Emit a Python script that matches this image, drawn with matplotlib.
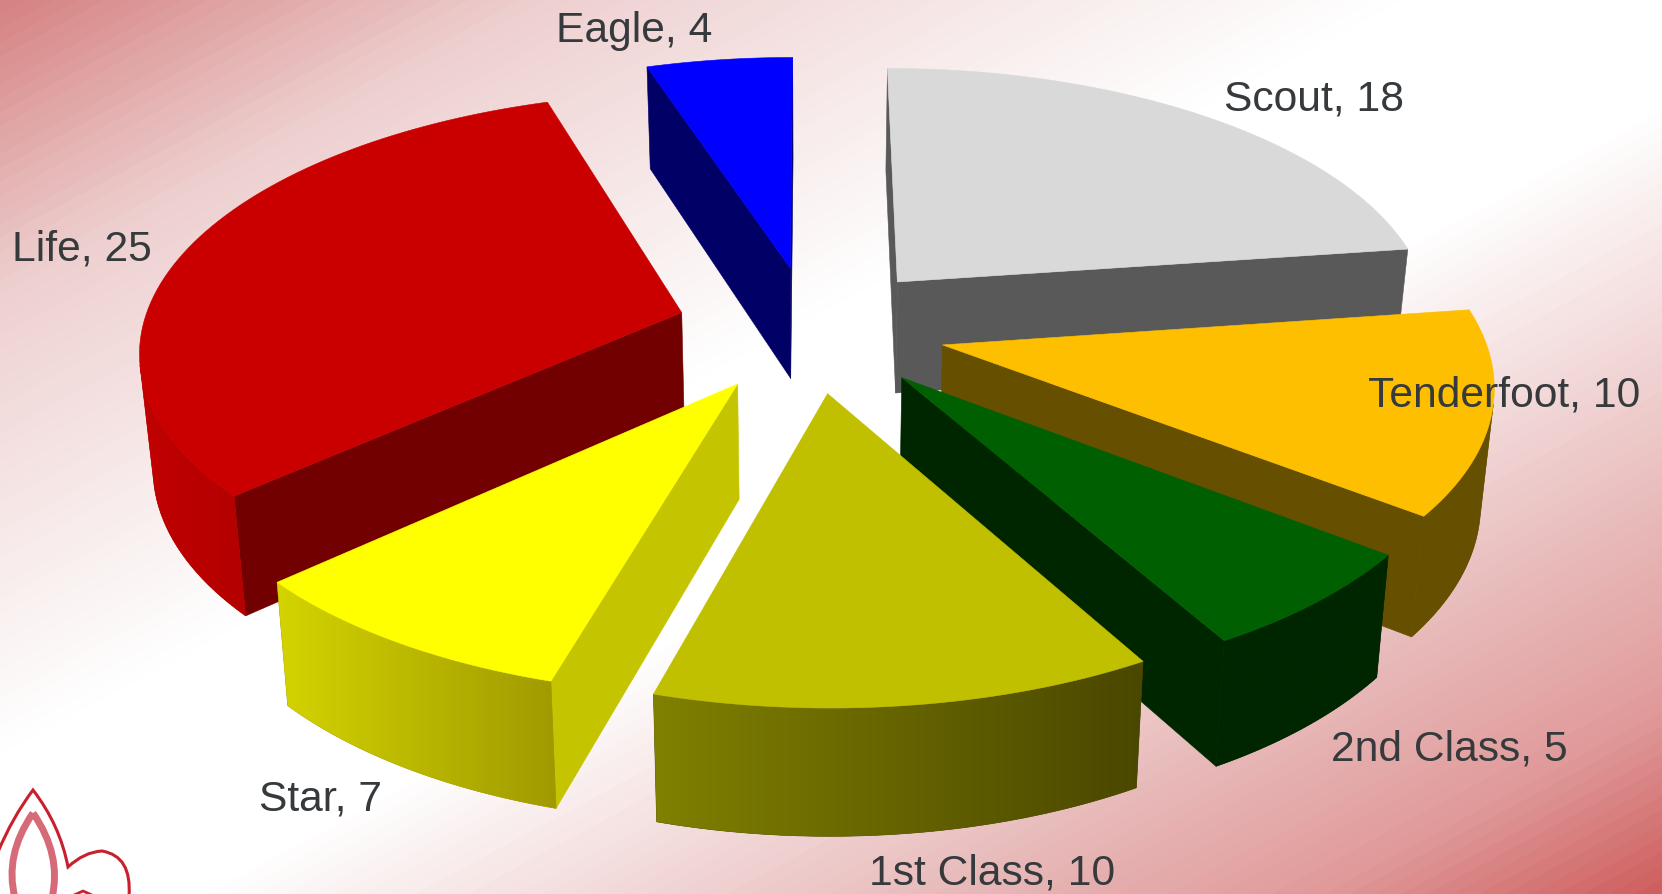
import numpy as np
import matplotlib
matplotlib.use('Agg')
import matplotlib.pyplot as plt
from matplotlib.colors import LinearSegmentedColormap
from matplotlib.patches import Polygon, PathPatch
from matplotlib.path import Path

plt.rcParams['font.family'] = ['Liberation Sans', 'DejaVu Sans']

# Data
categories = ['Scout', 'Tenderfoot', '2nd Class', '1st Class', 'Star', 'Life', 'Eagle']
values = [18, 10, 5, 10, 7, 25, 4]

# Colours per slice: top, cut face, rim at its left end, rim at its right end
top_colors = ['#d9d9d9', '#fdbf00', '#005f00', '#c0c000', '#ffff00', '#ca0000', '#0000ff']
face_colors = ['#595959', '#665000', '#002600', '#4a4700', '#c4c400', '#720000', '#000066']
rim_left = ['#595959', '#665000', '#002600', '#808000', '#d4d400', '#c00000', '#000066']
rim_right = ['#595959', '#665000', '#002600', '#4a4700', '#a09a00', '#b40000', '#000066']

# Layout of labels (left edge, baseline) in pixels
label_x = [1224, 1368, 1331, 869, 259, 12, 556]
label_y = [111, 407, 761, 884, 810, 261, 42]

# Drawing order, back to front
draw_order = [6, 0, 1, 2, 5, 4, 3]

# Projection parameters in pixels
cx, cy = 811, 328.6
R, V, H = 539.5, 253.5, 113
k = 0.133
explode = 0.25
W, HT = 1662, 894


def project(X, Y):
    w = 1 + k * Y
    return cx + R * X / w, cy - V * Y / w, w


def top_point(X, Y):
    x, y, w = project(X, Y)
    return np.array([x, y])


def bottom_point(X, Y):
    x, y, w = project(X, Y)
    return np.array([cx + (x - cx) * 0.98, y + H / w ** 0.7])


def visible(p, q, p2, q2):
    pts = [p, q, q2, p2]
    area = 0
    for i in range(4):
        a, b = pts[i], pts[(i + 1) % 4]
        area += a[0] * b[1] - b[0] * a[1]
    return area < 0


def quad(ax, pts, color, z):
    ax.add_patch(Polygon(pts, closed=True, facecolor=color, edgecolor=color, linewidth=0.4, zorder=z))


fig = plt.figure(figsize=(W / 100, HT / 100), dpi=100)
ax = fig.add_axes([0, 0, 1, 1])

# Background gradient, diagonal with faint banding
stops = [(0, '#d68383'), (0.16, '#eed0d0'), (0.42, '#ffffff'), (0.56, '#ffffff'),
         (0.78, '#e9bcbc'), (0.9, '#e09a9a'), (1, '#cf5f5f')]
cmap = LinearSegmentedColormap.from_list('bg', stops, N=128)
xx, yy = np.meshgrid(np.linspace(0, 1, W), np.linspace(0, 1, HT))
ax.imshow((xx + yy) / 2, cmap=cmap, extent=[0, W, HT, 0], aspect='auto', vmin=0, vmax=1, zorder=0)

# Fleur-de-lis corner logo
outer = Path([(-2, 852), (12, 818), (33, 790), (60, 825), (68, 867),
              (84, 852), (102, 851), (132, 856), (129, 896)],
             [Path.MOVETO, Path.CURVE3, Path.CURVE3, Path.CURVE3, Path.CURVE3,
              Path.CURVE3, Path.CURVE3, Path.CURVE3, Path.CURVE3])
ax.add_patch(PathPatch(outer, facecolor='none', edgecolor='#c8202c', lw=2.2, zorder=1))
petal = Path([(33, 813), (4, 855), (15, 898), (33, 813), (62, 855), (52, 898)],
             [Path.MOVETO, Path.CURVE3, Path.CURVE3, Path.MOVETO, Path.CURVE3, Path.CURVE3])
ax.add_patch(PathPatch(petal, facecolor='none', edgecolor='#d66a78', lw=5, zorder=1))
ax.plot([72, 83, 94], [896, 891, 896], color='#c8202c', lw=2, zorder=1)

# Slices
angles = np.cumsum([0] + values) / sum(values) * 2 * np.pi
z = 2
for i in draw_order:
    a0, a1 = angles[i], angles[i + 1]
    mid = (a0 + a1) / 2
    ox, oy = explode * np.sin(mid), explode * np.cos(mid)
    t = np.linspace(a0, a1, 80)
    X = ox + np.sin(t)
    Y = oy + np.cos(t)
    tops = [top_point(a, b) for a, b in zip(X, Y)]
    bots = [bottom_point(a, b) for a, b in zip(X, Y)]
    apex_t = top_point(ox, oy)
    apex_b = bottom_point(ox, oy)

    # cut faces
    if visible(apex_t, tops[0], apex_b, bots[0]):
        quad(ax, [apex_t, tops[0], bots[0], apex_b], face_colors[i], z)
    if visible(tops[-1], apex_t, bots[-1], apex_b):
        quad(ax, [tops[-1], apex_t, apex_b, bots[-1]], face_colors[i], z)
    z += 1

    # rim, shaded from left to right and clipped to the outline
    vis = [j for j in range(len(t) - 1) if visible(tops[j], tops[j + 1], bots[j], bots[j + 1])]
    if vis:
        keep = vis + [vis[-1] + 1]
        rim_pts = [tops[j] for j in keep] + [bots[j] for j in keep[::-1]]
        quad(ax, rim_pts, rim_right[i], z)
        xs = [p[0] for p in rim_pts]
        rim_cmap = LinearSegmentedColormap.from_list(f'rim{i}', [rim_left[i], rim_right[i]])
        im = ax.imshow(np.linspace(0, 1, 256).reshape(1, -1), cmap=rim_cmap, aspect='auto',
                       extent=[min(xs), max(xs), HT, 0], zorder=z)
        im.set_clip_path(Polygon(rim_pts, closed=True, transform=ax.transData))
    z += 1

    quad(ax, [apex_t] + tops, top_colors[i], z)
    z += 1

# Labels
for name, val, lx, ly in zip(categories, values, label_x, label_y):
    ax.text(lx, ly, f'{name}, {val}', fontsize=30.7, color='#363a3c', ha='left', va='baseline', zorder=50)

ax.set_xlim(0, W)
ax.set_ylim(HT, 0)
ax.axis('off')
fig.savefig('out.png', dpi=100)
